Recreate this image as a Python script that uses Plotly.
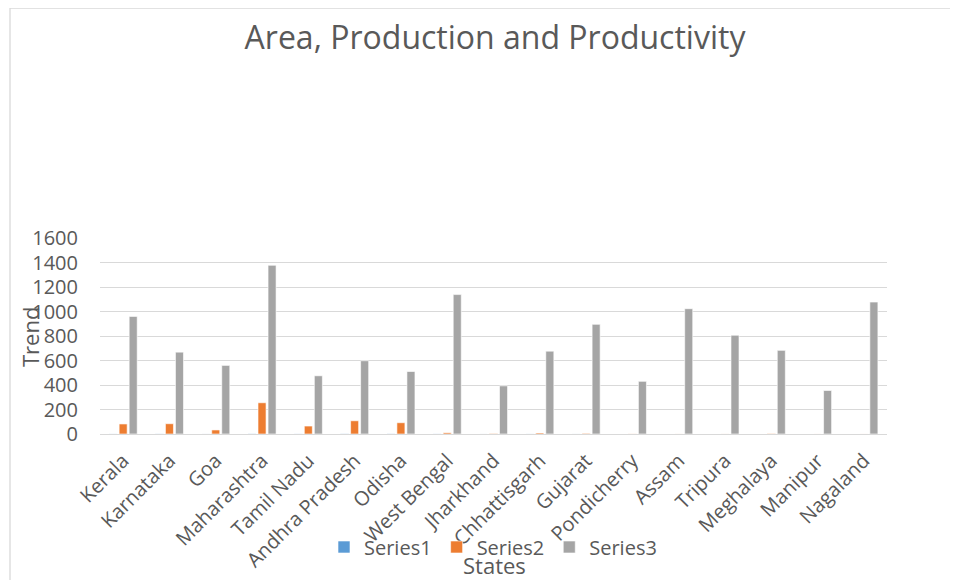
import plotly.graph_objects as go

states = ["Kerala", "Karnataka", "Goa", "Maharashtra", "Tamil Nadu", "Andhra Pradesh",
          "Odisha", "West Bengal", "Jharkhand", "Chhattisgarh", "Gujarat", "Pondicherry",
          "Assam", "Tripura", "Meghalaya", "Manipur", "Nagaland"]
series1 = [0.9, 1.2, 0.6, 1.9, 1.0, 1.8, 1.8, 1.1, 0.4, 0.7, 0.5, 0.1, 0.1, 0.1, 0.1, 0.1, 0.1]
series2 = [82, 84, 33, 255, 65, 108, 92, 10, 4, 8, 5, 1, 0.5, 0.5, 3, 0.3, 0.3]
series3 = [960, 668, 560, 1377, 475, 598, 510, 1138, 393, 676, 895, 430, 1023, 806, 683, 355, 1077]
y_ticks = [0, 200, 400, 600, 800, 1000, 1200, 1400, 1600]

FONT = "Open Sans"
TXT = "#595959"
GRID = "#d9d9d9"

OFF = 8  # page body margin
W, H = 958 - OFF, 580 - OFF
L, R, T, B = 100 - OFF, 887 - OFF, 238 - OFF, 434 - OFF

fig = go.Figure()
for name, vals, col in [("Series1", series1, "#5b9bd5"),
                        ("Series2", series2, "#ed7d31"),
                        ("Series3", series3, "#a5a5a5")]:
    fig.add_trace(go.Bar(x=states, y=vals, name=name,
                         marker=dict(color=col, line=dict(color="white", width=0.6))))

def px_x(px):
    return (px - OFF - L) / (R - L)

def px_y(py):
    return (B - (py - OFF)) / (B - T)

fig.update_layout(
    width=W, height=H, autosize=False,
    margin=dict(l=L, r=W - R, t=T, b=H - B, pad=0, autoexpand=False),
    paper_bgcolor="white", plot_bgcolor="white",
    font=dict(family=FONT, color=TXT, size=20),
    barmode="group", bargap=0.35, bargroupgap=0.2,
    title=dict(text="Area, Production and Productivity", x=(495 - OFF) / W, xref="container",
               xanchor="center", y=1 - (38 - OFF) / H, yref="container", yanchor="middle",
               font=dict(size=32, color=TXT, family=FONT)),
    showlegend=True,
    legend=dict(orientation="h", xref="container", yref="container",
                x=(493 - OFF) / W, xanchor="center", y=1 - (547 - OFF) / H, yanchor="middle",
                font=dict(size=20, color=TXT), bgcolor="rgba(0,0,0,0)",
                tracegroupgap=0),
    xaxis=dict(tickangle=-45, showgrid=False, showline=True, linecolor=GRID, linewidth=1.3,
               ticks="", tickfont=dict(size=20, color=TXT), ticklabelstandoff=6,
               automargin=False),
    yaxis=dict(range=[0, 1600], tickvals=y_ticks, showgrid=True, gridcolor=GRID, gridwidth=1.3,
               zeroline=False, showline=False, ticks="", tickfont=dict(size=20, color=TXT),
               ticklabelstandoff=21, automargin=False),
    annotations=[
        dict(text="Trend", xref="paper", yref="paper", x=px_x(30), y=px_y(337),
             xanchor="center", yanchor="middle", textangle=-90, showarrow=False,
             font=dict(size=22, color=TXT)),
        dict(text="States", xref="paper", yref="paper", x=px_x(495), y=px_y(565),
             xanchor="center", yanchor="middle", showarrow=False,
             font=dict(size=22, color=TXT)),
    ],
    shapes=[dict(type="rect", xref="paper", yref="paper",
                 x0=px_x(10), y0=px_y(640), x1=px_x(1020), y1=px_y(8),
                 line=dict(color=GRID, width=1.3), fillcolor="rgba(0,0,0,0)", layer="below")],
)

fig.write_html("out.html")
